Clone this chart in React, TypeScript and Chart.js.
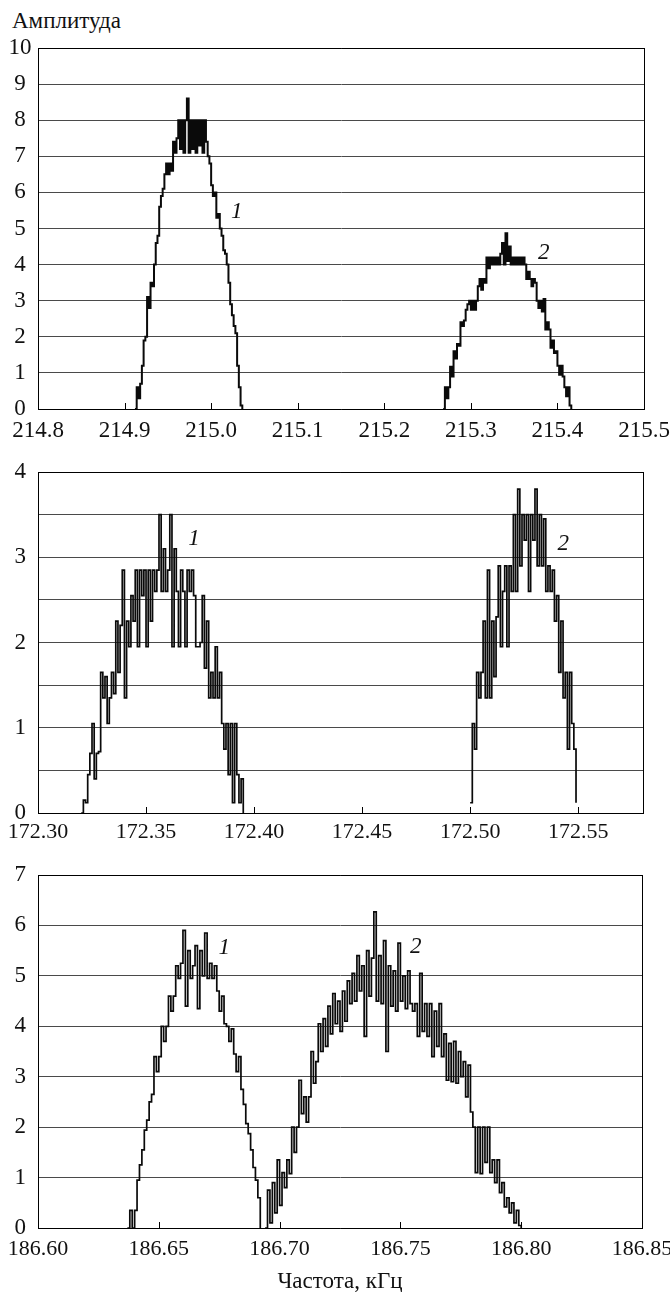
import React, { useEffect, useRef } from "react";
import { Chart, registerables } from "chart.js";

Chart.register(...registerables);

const FONT = "Liberation Serif";

// ---------- Panel A (214.8 – 215.5 kHz) ----------
const panelAXTicks = [214.8, 214.9, 215.0, 215.1, 215.2, 215.3, 215.4, 215.5];
const panelAYMax = 10;

const a1Freq = [
  214.912, 214.914, 214.916, 214.918, 214.92, 214.922, 214.924, 214.926, 214.928, 214.93,
  214.932, 214.934, 214.936, 214.938, 214.94, 214.942, 214.944, 214.946, 214.948, 214.95,
  214.952, 214.954, 214.956, 214.958, 214.96, 214.962, 214.964, 214.966, 214.968, 214.97,
  214.972, 214.974, 214.976, 214.978, 214.98, 214.982, 214.984, 214.986, 214.988, 214.99,
  214.992, 214.994, 214.996, 214.998, 215.0, 215.002, 215.004, 215.006, 215.008, 215.01,
  215.012, 215.014, 215.016, 215.018, 215.02, 215.022, 215.024, 215.026, 215.028, 215.03,
  215.032, 215.034, 215.036,
];
const a1Amp = [
  0, 0.6, 0.3, 0.7, 1.2, 1.9, 2.0, 3.1, 2.8, 3.5,
  3.4, 4.0, 4.6, 4.8, 5.6, 5.9, 6.1, 6.5, 6.8, 6.5,
  6.8, 6.6, 7.4, 7.1, 7.5, 8.0, 7.2, 8.0, 7.1, 8.0,
  8.6, 7.1, 8.0, 7.2, 8.0, 7.1, 8.0, 7.3, 8.0, 7.1,
  8.0, 7.4, 7.0, 6.8, 6.2, 5.9, 6.0, 5.3, 5.4, 5.0,
  4.8, 4.4, 4.3, 4.0, 3.5, 2.9, 2.6, 2.3, 2.1, 1.2,
  0.6, 0.1, 0,
];

const a2Freq = [
  215.268, 215.27, 215.272, 215.274, 215.276, 215.278, 215.28, 215.282, 215.284, 215.286,
  215.288, 215.29, 215.292, 215.294, 215.296, 215.298, 215.3, 215.302, 215.304, 215.306,
  215.308, 215.31, 215.312, 215.314, 215.316, 215.318, 215.32, 215.322, 215.324, 215.326,
  215.328, 215.33, 215.332, 215.334, 215.336, 215.338, 215.34, 215.342, 215.344, 215.346,
  215.348, 215.35, 215.352, 215.354, 215.356, 215.358, 215.36, 215.362, 215.364, 215.366,
  215.368, 215.37, 215.372, 215.374, 215.376, 215.378, 215.38, 215.382, 215.384, 215.386,
  215.388, 215.39, 215.392, 215.394, 215.396, 215.398, 215.4, 215.402, 215.404, 215.406,
  215.408, 215.41, 215.412, 215.414, 215.416,
];
const a2Amp = [
  0, 0.6, 0.3, 0.6, 1.17, 0.9, 1.6, 1.4, 1.8, 1.75,
  2.4, 2.3, 2.45, 2.75, 2.9, 3.0, 2.75, 3.0, 2.75, 3.0,
  3.4, 3.6, 3.3, 3.6, 3.5, 4.2, 3.9, 4.2, 4.0, 4.2,
  4.0, 4.2, 4.0, 4.3, 4.6, 4.0, 4.87, 4.1, 4.5, 4.0,
  4.2, 4.0, 4.2, 4.0, 4.2, 4.0, 4.2, 4.0, 3.6, 3.8,
  3.6, 3.4, 3.6, 3.5, 3.0, 2.8, 3.0, 2.7, 3.05, 2.2,
  2.4, 2.2, 1.7, 1.9, 1.55, 1.6, 1.2, 0.95, 1.2, 0.9,
  0.6, 0.35, 0.6, 0.1, 0,
];
const panelALabels = [
  { text: "1", f: 215.0296, a: 5.47 },
  { text: "2", f: 215.3843, a: 4.31 },
];

// ---------- Panel B (172.30 – 172.58 kHz) ----------
const panelBXTicks = [172.3, 172.35, 172.4, 172.45, 172.5, 172.55];
const panelBYMax = 4;

const b1Freq = [
  172.32, 172.321, 172.322, 172.323, 172.324, 172.325, 172.326, 172.327, 172.328, 172.329,
  172.33, 172.331, 172.332, 172.333, 172.334, 172.335, 172.336, 172.337, 172.338, 172.339,
  172.34, 172.341, 172.342, 172.343, 172.344, 172.345, 172.346, 172.347, 172.348, 172.349,
  172.35, 172.351, 172.352, 172.353, 172.354, 172.355, 172.356, 172.357, 172.358, 172.359,
  172.36, 172.361, 172.362, 172.363, 172.364, 172.365, 172.366, 172.367, 172.368, 172.369,
  172.37, 172.371, 172.372, 172.373, 172.374, 172.375, 172.376, 172.377, 172.378, 172.379,
  172.38, 172.381, 172.382, 172.383, 172.384, 172.385, 172.386, 172.387, 172.388, 172.389,
  172.39, 172.391, 172.392, 172.393, 172.394, 172.395,
];
const b1Amp = [
  0, 0.15, 0.12, 0.45, 0.7, 1.05, 0.4, 0.7, 0.72, 1.65,
  1.35, 1.6, 1.05, 1.35, 1.65, 1.4, 2.25, 1.65, 2.2, 2.85,
  1.35, 2.25, 1.95, 2.55, 2.25, 2.85, 1.95, 2.85, 2.55, 2.85,
  1.95, 2.85, 2.25, 2.85, 2.6, 2.85, 3.5, 2.6, 3.1, 2.6,
  2.85, 3.5, 1.95, 3.1, 2.6, 1.95, 2.85, 2.6, 1.95, 2.85,
  2.6, 2.85, 2.55, 1.95, 1.95, 2.0, 2.55, 1.7, 2.25, 1.35,
  1.65, 1.35, 1.95, 1.35, 1.65, 1.05, 0.75, 1.05, 0.45, 1.05,
  0.12, 1.05, 0.45, 0.12, 0.4, 0,
];

const b2Freq = [
  172.5, 172.501, 172.502, 172.503, 172.504, 172.505, 172.506, 172.507, 172.508, 172.509,
  172.51, 172.511, 172.512, 172.513, 172.514, 172.515, 172.516, 172.517, 172.518, 172.519,
  172.52, 172.521, 172.522, 172.523, 172.524, 172.525, 172.526, 172.527, 172.528, 172.529,
  172.53, 172.531, 172.532, 172.533, 172.534, 172.535, 172.536, 172.537, 172.538, 172.539,
  172.54, 172.541, 172.542, 172.543, 172.544, 172.545, 172.546, 172.547, 172.548, 172.549,
];
const b2Amp = [
  0.12, 1.05, 0.75, 1.65, 1.35, 1.65, 2.25, 1.35, 2.85, 1.35,
  2.25, 1.6, 2.3, 2.9, 1.95, 2.6, 2.9, 1.95, 2.9, 2.6,
  3.5, 2.6, 3.8, 2.9, 3.5, 3.2, 3.5, 2.6, 3.5, 3.2,
  3.8, 2.9, 3.5, 2.9, 3.45, 2.6, 2.9, 2.6, 2.85, 2.25,
  2.55, 1.65, 2.25, 1.35, 1.65, 0.75, 1.65, 1.05, 0.75, 0.12,
];
const panelBLabels = [
  { text: "1", f: 172.3722, a: 3.22 },
  { text: "2", f: 172.5431, a: 3.16 },
];

// ---------- Panel C (186.60 – 186.85 kHz) ----------
const panelCXTicks = [186.6, 186.65, 186.7, 186.75, 186.8, 186.85];
const panelCYMax = 7;

const c1Freq = [
  186.637, 186.638, 186.639, 186.64, 186.641, 186.642, 186.643, 186.644, 186.645, 186.646,
  186.647, 186.648, 186.649, 186.65, 186.651, 186.652, 186.653, 186.654, 186.655, 186.656,
  186.657, 186.658, 186.659, 186.66, 186.661, 186.662, 186.663, 186.664, 186.665, 186.666,
  186.667, 186.668, 186.669, 186.67, 186.671, 186.672, 186.673, 186.674, 186.675, 186.676,
  186.677, 186.678, 186.679, 186.68, 186.681, 186.682, 186.683, 186.684, 186.685, 186.686,
  186.687, 186.688, 186.689, 186.69, 186.691, 186.692,
];
const c1Amp = [
  0, 0.35, 0.0, 0.35, 0.95, 1.25, 1.55, 1.94, 2.14, 2.5,
  2.65, 3.4, 3.1, 3.4, 4.0, 3.7, 4.0, 4.6, 4.3, 4.6,
  5.2, 4.95, 5.25, 5.9, 4.4, 5.5, 4.95, 5.2, 5.6, 4.35,
  5.5, 5.0, 5.85, 4.95, 5.25, 4.95, 5.2, 4.7, 4.3, 4.6,
  4.05, 4.0, 3.7, 3.95, 3.45, 3.1, 3.4, 2.75, 2.45, 2.07,
  1.87, 1.55, 1.2, 0.95, 0.6, 0,
];

const c2Freq = [
  186.694, 186.695, 186.696, 186.697, 186.698, 186.699, 186.7, 186.701, 186.702, 186.703,
  186.704, 186.705, 186.706, 186.707, 186.708, 186.709, 186.71, 186.711, 186.712, 186.713,
  186.714, 186.715, 186.716, 186.717, 186.718, 186.719, 186.72, 186.721, 186.722, 186.723,
  186.724, 186.725, 186.726, 186.727, 186.728, 186.729, 186.73, 186.731, 186.732, 186.733,
  186.734, 186.735, 186.736, 186.737, 186.738, 186.739, 186.74, 186.741, 186.742, 186.743,
  186.744, 186.745, 186.746, 186.747, 186.748, 186.749, 186.75, 186.751, 186.752, 186.753,
  186.754, 186.755, 186.756, 186.757, 186.758, 186.759, 186.76, 186.761, 186.762, 186.763,
  186.764, 186.765, 186.766, 186.767, 186.768, 186.769, 186.77, 186.771, 186.772, 186.773,
  186.774, 186.775, 186.776, 186.777, 186.778, 186.779, 186.78, 186.781, 186.782, 186.783,
  186.784, 186.785, 186.786, 186.787, 186.788, 186.789, 186.79, 186.791, 186.792, 186.793,
  186.794, 186.795, 186.796, 186.797, 186.798, 186.799, 186.8,
];
const c2Amp = [
  0, 0.75, 0.1, 0.9, 0.3, 1.35, 0.45, 1.1, 0.8, 1.35,
  1.08, 2.0, 1.5, 2.0, 2.93, 2.27, 2.6, 2.1, 2.6, 3.5,
  2.87, 3.3, 4.05, 3.5, 4.15, 3.6, 4.4, 3.85, 4.65, 4.05,
  4.5, 3.9, 4.7, 4.1, 4.9, 4.45, 5.05, 4.5, 5.4, 4.7,
  5.2, 3.8, 5.5, 4.6, 5.35, 6.27, 4.5, 5.4, 4.45, 5.7,
  3.5, 5.2, 4.4, 5.1, 4.3, 5.65, 4.5, 5.0, 4.35, 5.1,
  4.45, 4.3, 4.45, 3.8, 5.05, 3.9, 4.45, 3.8, 4.45, 3.4,
  4.3, 3.6, 4.45, 3.4, 3.85, 2.93, 3.66, 2.9, 3.7, 2.87,
  3.5, 3.0, 3.3, 2.6, 3.23, 2.3, 2.0, 1.1, 2.0, 1.08,
  2.0, 1.3, 2.0, 1.1, 1.35, 0.9, 1.35, 0.7, 0.9, 0.42,
  0.6, 0.3, 0.5, 0.1, 0.35, 0.05, 0,
];
const panelCLabels = [
  { text: "1", f: 186.6771, a: 5.55 },
  { text: "2", f: 186.7564, a: 5.58 },
];

type Series = { freq: number[]; amp: number[] };
type PanelProps = {
  top: number;
  height: number;
  padTop: number;
  padRight: number;
  axisH: number;
  xMin: number;
  xMax: number;
  xTicks: number[];
  xDec: number;
  xFont: number;
  xPad: number;
  yMax: number;
  yStep: number;
  yPad: number;
  lineW: number;
  series: Series[];
  labels: { text: string; f: number; a: number }[];
};

function Panel(p: PanelProps) {
  const ref = useRef<HTMLCanvasElement | null>(null);
  useEffect(() => {
    if (!ref.current) return;
    const framePlugin = {
      id: "frame",
      afterDraw(chart: any) {
        const { ctx, chartArea, scales } = chart;
        const { left, top, right, bottom } = chartArea;
        const xs = scales.x;
        const ys = scales.y;
        ctx.save();
        ctx.strokeStyle = "#000";
        ctx.lineWidth = 1;
        ctx.beginPath();
        ctx.moveTo(left, Math.round(top) + 0.5);
        ctx.lineTo(Math.round(right) + 0.5, Math.round(top) + 0.5);
        ctx.moveTo(Math.round(right) + 0.5, top);
        ctx.lineTo(Math.round(right) + 0.5, bottom);
        for (const t of xs.ticks) {
          const px = Math.round(xs.getPixelForValue(t.value)) + 0.5;
          ctx.moveTo(px, bottom);
          ctx.lineTo(px, bottom - 6);
        }
        ctx.stroke();
        ctx.font = `italic 23px "${FONT}"`;
        ctx.fillStyle = "#111";
        ctx.textAlign = "center";
        ctx.textBaseline = "middle";
        for (const l of p.labels) {
          ctx.fillText(l.text, xs.getPixelForValue(l.f), ys.getPixelForValue(l.a));
        }
        ctx.restore();
      },
    };
    const chart = new Chart(ref.current, {
      type: "scatter",
      data: {
        datasets: p.series.map((s) => ({
          data: s.freq.map((f, i) => ({ x: f, y: s.amp[i] })),
          showLine: true,
          stepped: true,
          borderColor: "#0a0a0a",
          borderWidth: p.lineW,
          pointRadius: 0,
          pointHoverRadius: 0,
          fill: false,
        })),
      },
      options: {
        animation: false,
        responsive: false,
        devicePixelRatio: 1,
        events: [],
        layout: { padding: { top: p.padTop, right: p.padRight, left: 0, bottom: 0 } },
        plugins: { legend: { display: false }, tooltip: { enabled: false } },
        scales: {
          x: {
            type: "linear",
            position: "bottom",
            min: p.xMin,
            max: p.xMax,
            afterBuildTicks: (ax: any) => {
              ax.ticks = p.xTicks.map((v) => ({ value: v }));
            },
            afterFit: (ax: any) => {
              ax.height = p.axisH;
              ax.paddingLeft = 0;
              ax.paddingRight = 0;
            },
            ticks: {
              autoSkip: false,
              maxRotation: 0,
              minRotation: 0,
              padding: p.xPad,
              color: "#111",
              font: { family: `"${FONT}"`, size: p.xFont },
              callback: (v: any) => Number(v).toFixed(p.xDec),
            },
            grid: { display: false, drawTicks: false },
            border: { display: true, color: "#000", width: 1 },
          },
          y: {
            type: "linear",
            min: 0,
            max: p.yMax,
            afterFit: (ax: any) => {
              ax.width = 38;
              ax.paddingTop = 0;
              ax.paddingBottom = 0;
            },
            ticks: {
              stepSize: p.yStep,
              padding: p.yPad,
              crossAlign: "center",
              color: "#111",
              font: { family: `"${FONT}"`, size: 23 },
              callback: (v: any) => (Number.isInteger(Number(v)) ? String(v) : ""),
            },
            grid: { color: "#4a4a4a", lineWidth: 1, drawTicks: false },
            border: { display: true, color: "#000", width: 1 },
          },
        },
      } as any,
      plugins: [framePlugin],
    });
    return () => chart.destroy();
  }, []);
  return (
    <canvas
      ref={ref}
      width={670}
      height={p.height}
      style={{ position: "absolute", left: 0, top: p.top, width: 670, height: p.height }}
    />
  );
}

export default function App() {
  return (
    <div
      style={{
        position: "absolute",
        left: 0,
        top: 0,
        width: 670,
        height: 1292,
        background: "#fff",
        overflow: "hidden",
        color: "#111",
      }}
    >
      <div style={{ position: "absolute", left: 12, top: 9, fontSize: 23, lineHeight: 1, fontFamily: `"${FONT}"` }}>
        Амплитуда
      </div>
      <Panel
        top={0}
        height={445}
        padTop={48}
        padRight={26}
        axisH={36}
        xMin={214.8}
        xMax={215.5}
        xTicks={panelAXTicks}
        xDec={1}
        xFont={23}
        xPad={8}
        yMax={panelAYMax}
        yStep={1}
        yPad={6.5}
        lineW={2.0}
        series={[
          { freq: a1Freq, amp: a1Amp },
          { freq: a2Freq, amp: a2Amp },
        ]}
        labels={panelALabels}
      />
      <Panel
        top={445}
        height={405}
        padTop={27}
        padRight={27}
        axisH={37}
        xMin={172.3}
        xMax={172.58}
        xTicks={panelBXTicks}
        xDec={2}
        xFont={22}
        xPad={6.5}
        yMax={panelBYMax}
        yStep={0.5}
        yPad={12}
        lineW={1.7}
        series={[
          { freq: b1Freq, amp: b1Amp },
          { freq: b2Freq, amp: b2Amp },
        ]}
        labels={panelBLabels}
      />
      <Panel
        top={850}
        height={442}
        padTop={25}
        padRight={28}
        axisH={64}
        xMin={186.6}
        xMax={186.85}
        xTicks={panelCXTicks}
        xDec={2}
        xFont={22}
        xPad={8}
        yMax={panelCYMax}
        yStep={1}
        yPad={12}
        lineW={1.7}
        series={[
          { freq: c1Freq, amp: c1Amp },
          { freq: c2Freq, amp: c2Amp },
        ]}
        labels={panelCLabels}
      />
      <div
        style={{
          position: "absolute",
          left: 38,
          width: 604,
          top: 1269,
          textAlign: "center",
          fontSize: 23,
          lineHeight: 1,
          fontFamily: `"${FONT}"`,
        }}
      >
        Частота, кГц
      </div>
    </div>
  );
}
